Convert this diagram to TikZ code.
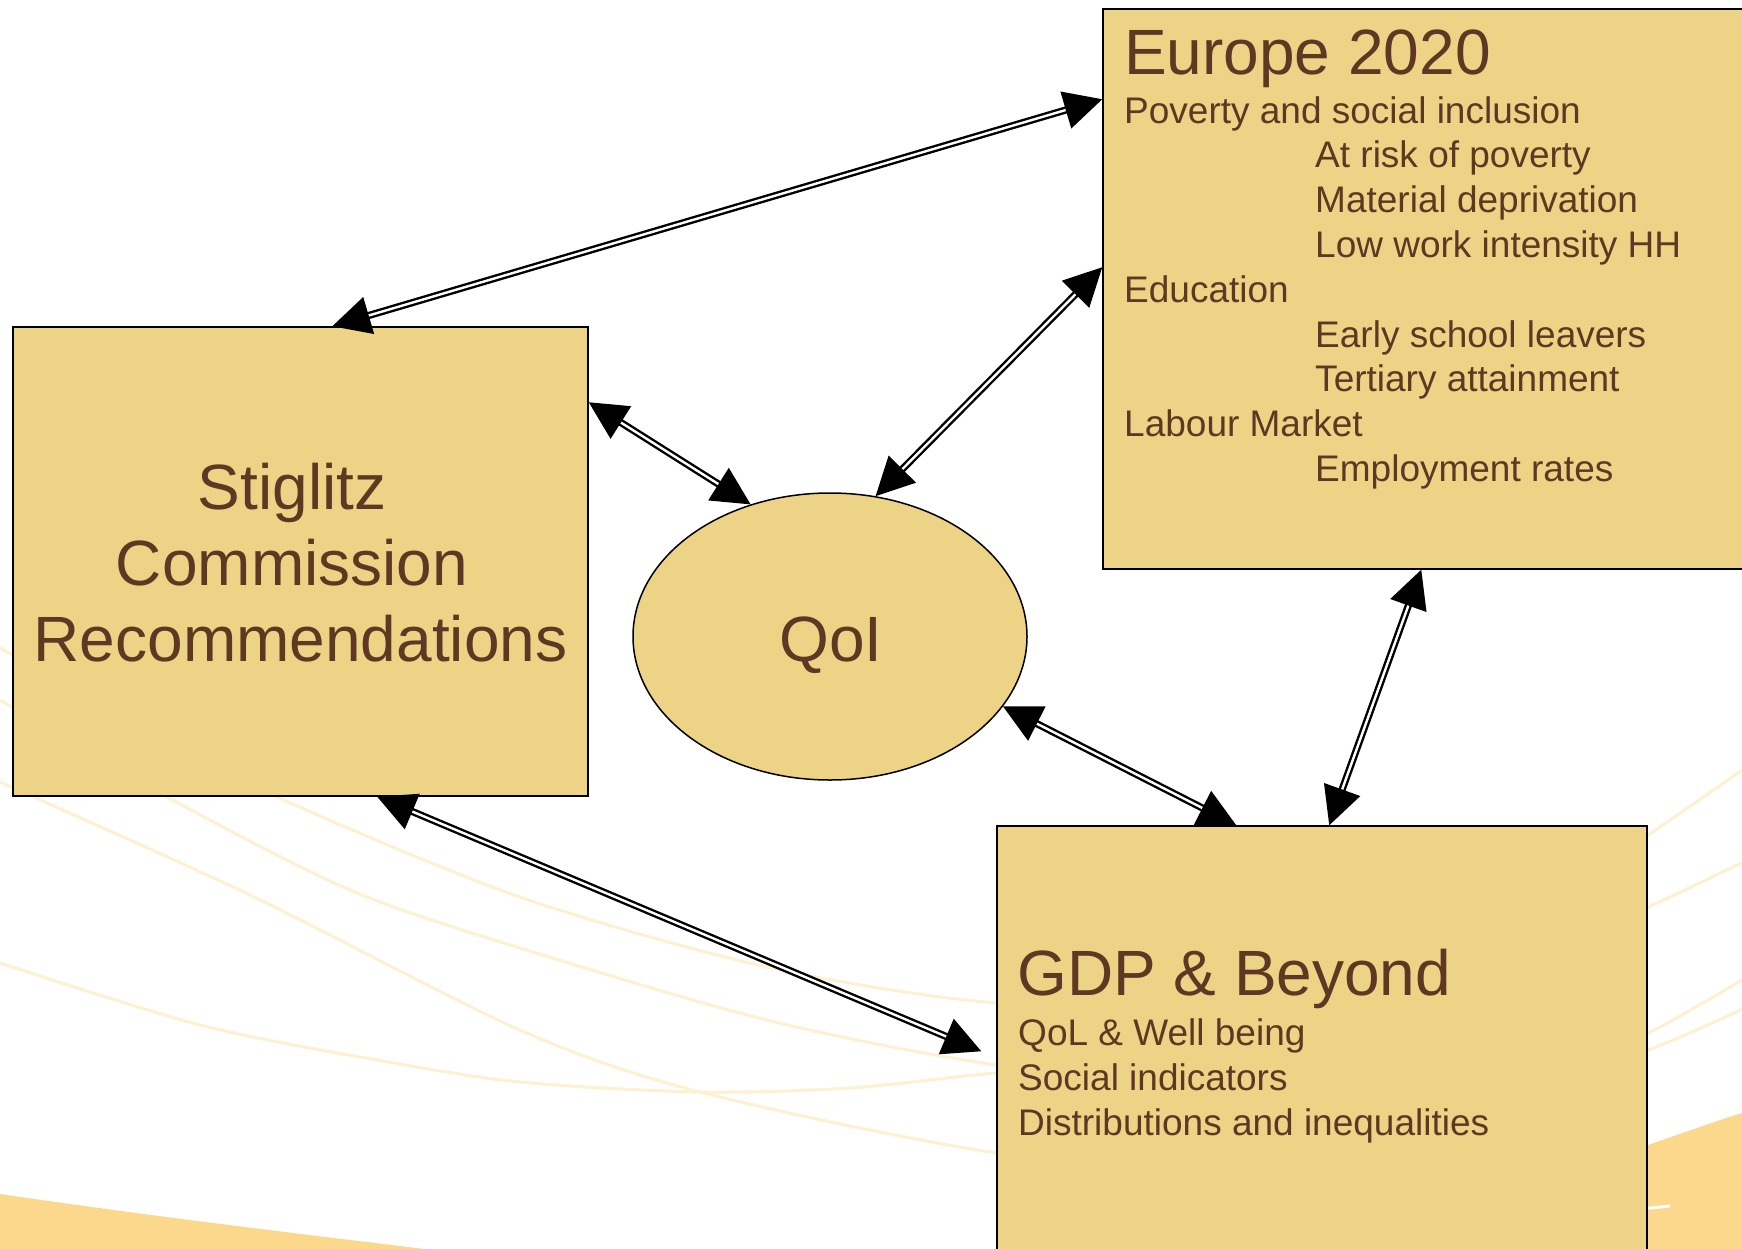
\documentclass[tikz,border=0pt]{standalone}
\usepackage{fontspec}
\setmainfont{Liberation Sans}
\usetikzlibrary{arrows.meta,shapes.geometric,calc}
\definecolor{boxfill}{RGB}{237,211,134}
\definecolor{txt}{RGB}{94,56,35}
\definecolor{pale}{RGB}{254,241,210}
\definecolor{swoosh}{RGB}{252,216,140}
\begin{document}
\begin{tikzpicture}[x=1pt,y=-1pt,
  box/.style={draw=black, line width=1.5pt, fill=boxfill, rectangle, inner sep=0pt},
  oval/.style={draw=black, line width=1.5pt, fill=boxfill, ellipse, inner sep=0pt},
  big/.style={text=txt, font=\fontsize{64}{76}\selectfont, inner sep=0pt, anchor=base},
  bigl/.style={big, anchor=base west},
  small/.style={text=txt, font=\fontsize{37}{44}\selectfont, inner sep=0pt, anchor=base west},
  link/.style={draw=black, double=white, line width=2.4pt, double distance=2.4pt,
    {Triangle[length=38pt,width=38pt]}-{Triangle[length=38pt,width=38pt]}},
  bgline/.style={draw=pale, line width=3pt}]

\useasboundingbox (0,0) rectangle (1742,1248);
\fill[white] (0,0) rectangle (1742,1248);

% background decoration
\begin{scope}
\clip (0,0) rectangle (1742,1248);
\fill[swoosh] (0,1194) .. controls (150,1216) and (300,1234) .. (450,1252) -- (0,1252) -- cycle;
\fill[swoosh] (1560,1175) -- (1648,1145) .. controls (1680,1134) and (1710,1123) .. (1745,1112) -- (1745,1260) -- (1560,1260) -- cycle;
\draw[white, line width=3pt] (1640,1209) -- (1670,1206);
\draw[bgline] plot[smooth] coordinates {(0,782) (250,895) (520,1030) (700,1092) (997,1153) (1300,1180)};
\draw[bgline] plot[smooth] coordinates {(0,963) (200,1025) (377,1060) (520,1082) (700,1092) (850,1088) (997,1073) (1200,1060)};
\draw[bgline] plot[smooth] coordinates {(0,648) (150,730) (277,797) (520,897) (767,967) (997,1003) (1200,1000)};
\draw[bgline] plot[smooth] coordinates {(0,700) (167,797) (350,890) (520,948) (767,1020) (997,1065) (1200,1080)};
\draw[bgline] plot[smooth] coordinates {(1560,890) (1648,835) (1745,768)};
\draw[bgline] plot[smooth] coordinates {(1560,940) (1648,907) (1745,861)};
\draw[bgline] plot[smooth] coordinates {(1560,1062) (1648,1033) (1745,978)};
\draw[bgline] plot[smooth] coordinates {(1560,1072) (1648,1050) (1745,1008)};
\end{scope}

% shapes
\node[box, minimum width=575pt, minimum height=469pt] (stig) at (300.5,561.5) {};
\node[box, minimum width=642pt, minimum height=560pt] (eu) at (1424,289) {};
\node[box, minimum width=650pt, minimum height=444pt] (gdp) at (1322,1048) {};
\node[oval, minimum width=394pt, minimum height=287pt] (qol) at (830,636.5) {};

% texts
\node[big] (st1) at (292,509) {Stiglitz};
\node[big] (st2) at (292,585) {Commission};
\node[big] (st3) at (300.5,661) {Recommendations};
\node[big] (qt) at (831,661) {QoI};

\node[bigl] (et) at (1124,74) {Europe 2020};
\node[small] (e1) at (1124,123) {Poverty and social inclusion};
\node[small] (e2) at (1315,167.8) {At risk of poverty};
\node[small] (e3) at (1315,212.6) {Material deprivation};
\node[small] (e4) at (1315,257.4) {Low work intensity HH};
\node[small] (e5) at (1124,302.2) {Education};
\node[small] (e6) at (1315,347) {Early school leavers};
\node[small] (e7) at (1315,391.8) {Tertiary attainment};
\node[small] (e8) at (1124,436.6) {Labour Market};
\node[small] (e9) at (1315,481.4) {Employment rates};

\node[bigl] (gt) at (1017,995) {GDP \& Beyond};
\node[small] (g1) at (1018,1045) {QoL \& Well being};
\node[small] (g2) at (1018,1090) {Social indicators};
\node[small] (g3) at (1018,1135) {Distributions and inequalities};

% connectors
\draw[link] ($(stig.north west)+(320,0)$) -- ($(eu.north west)+(0,91)$);
\draw[link] ($(stig.north east)+(0,76)$) -- (qol.121);
\draw[link] (qol.72) -- ($(eu.north west)+(0,259)$);
\draw[link] (qol.-22) -- ($(gdp.north west)+(240,0)$);
\draw[link] ($(eu.south west)+(319,0)$) -- ($(gdp.north west)+(333,0)$);
\draw[link] ($(stig.south west)+(365,0)$) -- ($(gdp.north west)+(-15,226)$);
\end{tikzpicture}
\end{document}
